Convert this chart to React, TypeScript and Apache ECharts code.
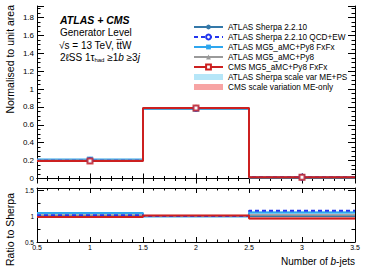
import React, { useEffect, useRef } from "react";
import * as echarts from "echarts";

const EDGES = [0.5, 1.5, 2.5, 3.5];
const CENTERS = [1, 2, 3];

// normalised distributions
const SHERPA = [0.2, 0.786, 0.014];
const SHERPA_QCDEW = [0.201, 0.785, 0.0155];
const MG5_FXFX = [0.212, 0.778, 0.015];
const MG5_PY8 = [0.204, 0.782, 0.0143];
const CMS_FXFX = [0.196, 0.79, 0.0134];

const SHERPA_BAND_LO = [0.197, 0.778, 0.0137];
const SHERPA_BAND_HI = [0.206, 0.788, 0.0153];
const CMS_BAND_LO = [0.192, 0.784, 0.013];
const CMS_BAND_HI = [0.2, 0.797, 0.0146];

// ratio to Sherpa
const R_SHERPA = [1.0, 1.0, 1.0];
const R_QCDEW = [1.015, 1.0, 1.1];
const R_FXFX = [1.06, 0.99, 1.07];
const R_MG5 = [1.02, 0.995, 1.02];
const R_CMS = [0.98, 1.01, 0.955];

const R_SHERPA_BAND_LO = [0.99, 0.98, 0.98];
const R_SHERPA_BAND_HI = [1.03, 1.0, 1.09];
const R_CMS_BAND_LO = [0.965, 0.995, 0.93];
const R_CMS_BAND_HI = [0.99, 1.025, 1.04];

const N_SHERPA = "ATLAS Sherpa 2.2.10";
const N_QCDEW = "ATLAS Sherpa 2.2.10 QCD+EW";
const N_FXFX = "ATLAS MG5_aMC+Py8 FxFx";
const N_MG5 = "ATLAS MG5_aMC+Py8";
const N_CMS = "CMS MG5_aMC+Py8 FxFx";
const N_SBAND = "ATLAS Sherpa scale var ME+PS";
const N_CBAND = "CMS scale variation ME-only";

const C_SHERPA = "#3478a8";
const C_QCDEW = "#2336ee";
const C_FXFX = "#2ea6ee";
const C_MG5 = "#9a9a9a";
const C_CMS = "#cc2020";
const C_SBAND = "#b6e6f8";
const C_CBAND = "#f7a4a4";

const FONT = '"Liberation Sans", Arial, sans-serif';

function stepData(vals: number[]) {
  return EDGES.map((e, i) => [e, vals[Math.min(i, vals.length - 1)]]);
}

function bandData(lo: number[], hi: number[]) {
  return lo.map((l, i) => [EDGES[i], EDGES[i + 1], l, hi[i]]);
}

function bandSeries(name: string, color: string, lo: number[], hi: number[], axis: number, opacity: number) {
  return {
    type: "custom",
    name,
    xAxisIndex: axis,
    yAxisIndex: axis,
    itemStyle: { color },
    data: bandData(lo, hi),
    encode: { x: [0, 1], y: [2, 3] },
    renderItem: (params: any, api: any) => {
      const p1 = api.coord([api.value(0), api.value(3)]);
      const p2 = api.coord([api.value(1), api.value(2)]);
      return {
        type: "rect",
        shape: { x: p1[0], y: p1[1], width: p2[0] - p1[0], height: Math.max(p2[1] - p1[1], 1) },
        style: { fill: color, opacity },
      };
    },
    z: 1,
  };
}

function stepSeries(name: string, color: string, vals: number[], axis: number, symbol: string, dashed: boolean, width: number, z: number) {
  return {
    type: "line",
    name,
    xAxisIndex: axis,
    yAxisIndex: axis,
    step: "end",
    data: stepData(vals),
    symbol,
    symbolSize: 6,
    showSymbol: false,
    lineStyle: { color, width, type: dashed ? [4, 3] : "solid" },
    itemStyle: { color },
    z,
  };
}

function markerSeries(name: string, color: string, vals: number[], symbol: string, size: number, z: number) {
  return {
    type: "scatter",
    name,
    xAxisIndex: 0,
    yAxisIndex: 0,
    data: CENTERS.map((c, i) => [c, vals[i]]),
    symbol,
    symbolSize: size,
    itemStyle: { color, borderColor: color, borderWidth: 1.2 },
    z,
  };
}

export default function App() {
  const ref = useRef<HTMLDivElement>(null);
  useEffect(() => {
    if (!ref.current) return;
    const chart = echarts.init(ref.current, undefined, { renderer: "svg" });
    const axisLine = { show: true, lineStyle: { color: "#000", width: 1 } };
    const xCommon = (grid: number, pos: string, labels: boolean, tickLen: number) => ({
      type: "value",
      gridIndex: grid,
      position: pos,
      min: 0.5,
      max: 3.5,
      interval: 0.5,
      axisLine,
      axisTick: { show: true, inside: true, length: tickLen, lineStyle: { color: "#000" } },
      minorTick: { show: true, splitNumber: 5, length: tickLen / 2, lineStyle: { color: "#000" } },
      splitLine: { show: false },
      axisLabel: { show: labels, fontSize: 7, color: "#000", fontFamily: FONT, margin: 2 },
    });
    const yTop = (pos: string, labels: boolean) => ({
      type: "value",
      gridIndex: 0,
      position: pos,
      min: 0,
      max: 1.93,
      interval: 0.2,
      axisLine,
      axisTick: { show: true, inside: true, length: 7, lineStyle: { color: "#000" } },
      minorTick: { show: true, splitNumber: 4, length: 3.5, lineStyle: { color: "#000" } },
      splitLine: { show: false },
      axisLabel: { show: labels, showMaxLabel: false, fontSize: 8, color: "#000", fontFamily: FONT, margin: 3 },
    });
    const yRatio = (pos: string, labels: boolean) => ({
      type: "value",
      gridIndex: 1,
      position: pos,
      min: 0.5,
      max: 1.54,
      interval: 0.5,
      axisLine,
      axisTick: { show: true, inside: true, length: 7, lineStyle: { color: "#000" } },
      minorTick: { show: true, splitNumber: 2, length: 3.5, lineStyle: { color: "#000" } },
      splitLine: { show: false },
      axisLabel: { show: labels, showMaxLabel: false, fontSize: 6.5, color: "#000", fontFamily: FONT, margin: 3 },
    });

    const option: any = {
      animation: false,
      backgroundColor: "#fff",
      grid: [
        { left: 37, top: 6, width: 318, height: 172.5 },
        { left: 37, top: 188, width: 318, height: 54 },
      ],
      xAxis: [
        xCommon(0, "bottom", false, 5),
        xCommon(0, "top", false, 5),
        xCommon(1, "bottom", true, 5),
        xCommon(1, "top", false, 5),
      ],
      yAxis: [yTop("left", true), yTop("right", false), yRatio("left", true), yRatio("right", false)],
      legend: {
        orient: "vertical",
        left: 193,
        top: 22,
        padding: 0,
        itemWidth: 29,
        itemHeight: 6,
        itemGap: 0,
        textStyle: { fontSize: 8.2, color: "#000", fontFamily: FONT, lineHeight: 10 },
        selectedMode: false,
        data: [
          { name: N_SHERPA },
          { name: N_QCDEW },
          { name: N_FXFX },
          { name: N_MG5 },
          { name: N_CMS },
          { name: N_SBAND, icon: "rect", itemStyle: { color: C_SBAND } },
          { name: N_CBAND, icon: "rect", itemStyle: { color: C_CBAND } },
        ],
      },
      graphic: [
        {
          type: "text",
          x: 60,
          y: 20,
          style: { text: "ATLAS + CMS", fontSize: 10.5, fontWeight: "bold", fontStyle: "italic", fontFamily: FONT, fill: "#000", verticalAlign: "middle" },
        },
        {
          type: "text",
          x: 60,
          y: 32,
          style: { text: "Generator Level", fontSize: 10, fontFamily: FONT, fill: "#000", verticalAlign: "middle" },
        },
        {
          type: "text",
          x: 59,
          y: 45,
          style: { text: "\u221As = 13 TeV, t\u0304t\u0304W", fontSize: 10, fontFamily: FONT, fill: "#000", verticalAlign: "middle" },
        },
        {
          type: "text",
          x: 60,
          y: 57,
          style: {
            text: "{a|2\u2113SS 1\u03C4}{s|had}{a| \u22651}{i|b}{a| \u22653}{i|j}",
            fontFamily: FONT,
            fill: "#000",
            verticalAlign: "middle",
            rich: {
              a: { fontSize: 10, fontFamily: FONT, fill: "#000", color: "#000" },
              i: { fontSize: 10, fontStyle: "italic", fontFamily: FONT, color: "#000" },
              s: { fontSize: 6, fontFamily: FONT, color: "#000", padding: [6, 0, 0, 0] },
            },
          },
        },
        {
          type: "text",
          x: 10,
          y: 5,
          rotation: Math.PI / 2,
          style: { text: "Normalised to unit area", fontSize: 10.5, fontFamily: FONT, fill: "#000", align: "right", verticalAlign: "middle" },
        },
        {
          type: "text",
          x: 10,
          y: 193,
          rotation: Math.PI / 2,
          style: { text: "Ratio to Sherpa", fontSize: 10.5, fontFamily: FONT, fill: "#000", align: "right", verticalAlign: "middle" },
        },
        {
          type: "text",
          x: 355,
          y: 261,
          style: {
            text: "{a|Number of }{i|b}{a|-jets}",
            align: "right",
            verticalAlign: "middle",
            fontFamily: FONT,
            rich: {
              a: { fontSize: 10, fontFamily: FONT, color: "#000" },
              i: { fontSize: 10, fontStyle: "italic", fontFamily: FONT, color: "#000" },
            },
          },
        },
      ],
      series: [
        bandSeries(N_SBAND, C_SBAND, SHERPA_BAND_LO, SHERPA_BAND_HI, 0, 1),
        bandSeries(N_CBAND, C_CBAND, CMS_BAND_LO, CMS_BAND_HI, 0, 0.8),
        bandSeries(N_SBAND, C_SBAND, R_SHERPA_BAND_LO, R_SHERPA_BAND_HI, 2, 1),
        bandSeries(N_CBAND, C_CBAND, R_CMS_BAND_LO, R_CMS_BAND_HI, 2, 0.75),

        stepSeries(N_SHERPA, C_SHERPA, SHERPA, 0, "circle", false, 2, 3),
        stepSeries(N_QCDEW, C_QCDEW, SHERPA_QCDEW, 0, "emptyCircle", true, 1.5, 4),
        stepSeries(N_FXFX, C_FXFX, MG5_FXFX, 0, "rect", false, 2, 3),
        stepSeries(N_MG5, C_MG5, MG5_PY8, 0, "triangle", false, 1.5, 3),
        stepSeries(N_CMS, C_CMS, CMS_FXFX, 0, "emptyRect", false, 2, 5),

        stepSeries(N_SHERPA, C_SHERPA, R_SHERPA, 2, "circle", false, 2, 3),
        stepSeries(N_FXFX, C_FXFX, R_FXFX, 2, "rect", false, 2, 3),
        stepSeries(N_MG5, C_MG5, R_MG5, 2, "triangle", false, 1.5, 3),
        stepSeries(N_QCDEW, C_QCDEW, R_QCDEW, 2, "emptyCircle", true, 2, 4),
        stepSeries(N_CMS, C_CMS, R_CMS, 2, "emptyRect", false, 2, 5),

        markerSeries(N_SHERPA, C_SHERPA, SHERPA, "circle", 5, 6),
        markerSeries(N_FXFX, C_FXFX, MG5_FXFX, "rect", 5, 6),
        markerSeries(N_MG5, C_MG5, MG5_PY8, "triangle", 5, 6),
        markerSeries(N_QCDEW, C_QCDEW, SHERPA_QCDEW, "emptyCircle", 5, 7),
        markerSeries(N_CMS, C_CMS, CMS_FXFX, "emptyRect", 5, 8),
      ],
    };
    chart.setOption(option);
    return () => chart.dispose();
  }, []);
  return <div ref={ref} style={{ position: "fixed", left: 0, top: 0, width: 374, height: 268 }} />;
}
